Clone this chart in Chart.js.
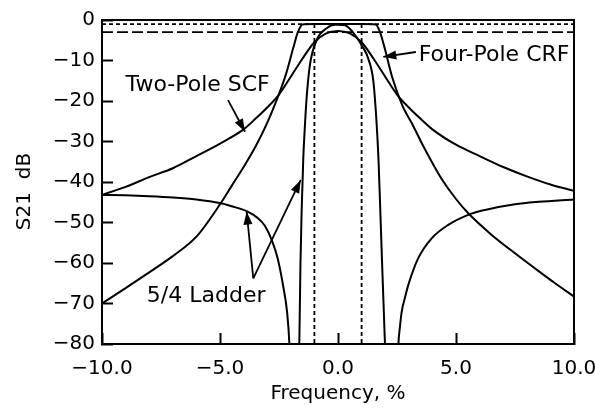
<!DOCTYPE html>
<html><head><meta charset="utf-8">
<script src="https://cdn.jsdelivr.net/npm/chart.js@4"></script>
<style>html,body{margin:0;padding:0;background:#fff}</style>
</head><body>
<canvas id="c" width="595" height="416"></canvas>
<script>
// ---- data ----
const xTickValues = [-10, -5, 0, 5, 10];
const yTickValues = [0, -10, -20, -30, -40, -50, -60, -70, -80];

const twoPoleFreq = [-10,-9,-8,-7,-6,-5,-4,-3.5,-3,-2.5,-2,-1.5,-1,-0.5,0,0.5,1,1.5,2,2.5,3,3.5,4,5,6,7,8,9,10];
const twoPoleS21  = [-43.2,-41.2,-38.8,-36.6,-33.6,-30.5,-27.0,-24.4,-21.6,-18.4,-14.0,-9.5,-5.5,-3.3,-2.7,-3.3,-5.5,-9.5,-14.0,-18.4,-21.6,-24.4,-27.0,-30.8,-33.6,-36.3,-38.6,-40.6,-42.2];

const fourPoleFreq = [-10,-9,-8,-7,-6,-5,-4.5,-4,-3.5,-3,-2.6,-2.2,-1.9,-1.7,-1.5,-1,0,1,1.6,1.78,1.98,2.3,2.72,3.2,3.6,4.0,4.4,5,5.5,6.5,7.5,8.5,9.2,10];
const fourPoleS21  = [-70,-66.2,-62.3,-58.3,-53.5,-45.5,-40.9,-36.3,-31.3,-25.4,-19.8,-13.3,-7.0,-3.0,-1.1,-1.0,-1.0,-1.0,-1.1,-3.0,-7.0,-14.2,-21.0,-26.3,-31.0,-35.3,-39.3,-44.2,-47.6,-53.0,-57.6,-62.0,-65.0,-68.3];

const ladderFreq = [-10,-9,-8,-7,-6,-5,-4.5,-3.87,-3.4,-3.1,-2.81,-2.55,-2.32,-2.16,-2.06,-1.95,-1.75,-1.64,-1.59,-1.54,-1.47,-1.40,-1.33,-1.19,-0.90,-0.48,-0.13,0,0.3,0.6,1.0,1.28,1.5,1.64,1.72,1.78,1.88,1.99,2.1,2.45,2.56,2.62,2.70,2.84,2.98,3.4,3.97,4.67,5.52,6.23,7.5,8.5,10];
const ladderS21  = [-43.2,-43.3,-43.5,-43.8,-44.3,-45.2,-46.0,-47.2,-48.9,-50.8,-54.3,-59.0,-65.8,-72,-80,-100,-100,-80,-60,-47,-34,-25.9,-19.3,-11.1,-4.9,-2.05,-1.2,-1.2,-1.3,-2.8,-6.2,-9.5,-15.2,-25.9,-35,-45,-62,-80,-100,-100,-80,-76,-72,-68.5,-65.4,-58.8,-53.9,-50.6,-48.1,-46.9,-45.5,-44.9,-44.3];

const dottedLevel = -1;
const dashedLevel = -3;
const dottedFreqs = [-1, 1];

const seriesNames = ['Two-Pole SCF', 'Four-Pole CRF', '5/4 Ladder'];

// ---- annotation placement (data units) ----
const notes = [
  {text: 'Two-Pole SCF', x: -9.0, y: -16.0, arrows: [[[-4.66, -19.8], [-3.94, -27.6]]]},
  {text: 'Four-Pole CRF', x: 3.42, y: -8.6, arrows: [[[3.3, -7.9], [1.92, -9.1]]]},
  {text: '5/4 Ladder', x: -8.1, y: -68.1, arrows: [[[-3.59, -63.8], [-3.87, -47.3]], [[-3.59, -63.8], [-1.58, -39.5]]]}
];

const FONT = 'DejaVu Sans';
const pts = (xs, ys) => xs.map((x, i) => ({x, y: ys[i]}));
const minusFmt = (v, d) => (v < 0 ? '\u2212' : '') + Math.abs(v).toFixed(d);

const curveStyle = {borderColor: '#000', borderWidth: 2, pointRadius: 0, cubicInterpolationMode: 'monotone', fill: false};

const frame = {
  id: 'frame',
  afterDraw(chart) {
    const a = chart.chartArea, ctx = chart.ctx;
    ctx.save();
    ctx.strokeStyle = '#000'; ctx.lineWidth = 2;
    ctx.strokeRect(a.left, a.top, a.right - a.left, a.bottom - a.top);
    ctx.restore();
  }
};

const annot = {
  id: 'annot',
  afterDatasetsDraw(chart) {
    const ctx = chart.ctx, sx = chart.scales.x, sy = chart.scales.y;
    ctx.save();
    ctx.fillStyle = '#000'; ctx.strokeStyle = '#000';
    ctx.font = '22px "' + FONT + '"';
    ctx.textAlign = 'left'; ctx.textBaseline = 'middle';
    notes.forEach(n => {
      ctx.fillText(n.text, sx.getPixelForValue(n.x), sy.getPixelForValue(n.y));
      n.arrows.forEach(([f, t]) => {
        const x1 = sx.getPixelForValue(f[0]), y1 = sy.getPixelForValue(f[1]);
        const x2 = sx.getPixelForValue(t[0]), y2 = sy.getPixelForValue(t[1]);
        ctx.lineWidth = 1.8;
        ctx.beginPath(); ctx.moveTo(x1, y1); ctx.lineTo(x2, y2); ctx.stroke();
        const ang = Math.atan2(y2 - y1, x2 - x1), L = 13, W = 4.5;
        const bx = x2 - L * Math.cos(ang), by = y2 - L * Math.sin(ang);
        ctx.beginPath();
        ctx.moveTo(x2, y2);
        ctx.lineTo(bx + W * Math.sin(ang), by - W * Math.cos(ang));
        ctx.lineTo(bx - W * Math.sin(ang), by + W * Math.cos(ang));
        ctx.closePath(); ctx.fill();
      });
    });
    ctx.restore();
  }
};

const zeroPad = s => { s.paddingLeft = 0; s.paddingRight = 0; s.paddingTop = 0; s.paddingBottom = 0; };

new Chart(document.getElementById('c'), {
  type: 'line',
  data: {
    datasets: [
      Object.assign({label: seriesNames[0], data: pts(twoPoleFreq, twoPoleS21)}, curveStyle),
      Object.assign({label: seriesNames[1], data: pts(fourPoleFreq, fourPoleS21)}, curveStyle),
      Object.assign({label: seriesNames[2], data: pts(ladderFreq, ladderS21)}, curveStyle),
      {label: 'ref -1', data: [{x: -10, y: dottedLevel}, {x: 10, y: dottedLevel}], borderColor: '#000', borderWidth: 1.8, borderDash: [4, 3], pointRadius: 0},
      {label: 'ref -3', data: [{x: -10, y: dashedLevel}, {x: 10, y: dashedLevel}], borderColor: '#000', borderWidth: 1.8, borderDash: [11, 4], pointRadius: 0},
      {label: 'ref f1', data: [{x: dottedFreqs[0], y: dottedLevel}, {x: dottedFreqs[0], y: -80}], borderColor: '#000', borderWidth: 1.8, borderDash: [4, 3], pointRadius: 0},
      {label: 'ref f2', data: [{x: dottedFreqs[1], y: dottedLevel}, {x: dottedFreqs[1], y: -80}], borderColor: '#000', borderWidth: 1.8, borderDash: [4, 3], pointRadius: 0}
    ]
  },
  options: {
    responsive: false,
    animation: false,
    devicePixelRatio: 1,
    layout: {padding: {top: 20, right: 21, bottom: 0, left: 0}},
    plugins: {legend: {display: false}, tooltip: {enabled: false}},
    scales: {
      x: {
        type: 'linear', min: -10, max: 10,
        afterBuildTicks: s => { s.ticks = xTickValues.map(v => ({value: v})); },
        afterFit: s => { s.height = 72; zeroPad(s); },
        ticks: {callback: v => minusFmt(v, 1), font: {family: FONT, size: 20}, color: '#000', padding: 24, maxRotation: 0, autoSkip: false},
        grid: {drawOnChartArea: false, tickLength: -11, tickWidth: 2, tickColor: '#000', color: '#000'},
        border: {color: '#000', width: 2},
        title: {display: true, text: 'Frequency, %', font: {family: FONT, size: 20}, color: '#000', padding: {top: 0, bottom: 10}}
      },
      y: {
        type: 'linear', min: -80, max: 0,
        afterBuildTicks: s => { s.ticks = yTickValues.map(v => ({value: v})); },
        afterFit: s => { s.width = 102; zeroPad(s); },
        ticks: {callback: v => minusFmt(v, 0), font: {family: FONT, size: 20}, color: '#000', padding: 18, autoSkip: false},
        grid: {drawOnChartArea: false, tickLength: -11, tickWidth: 2, tickColor: '#000', color: '#000'},
        border: {color: '#000', width: 2},
        title: {display: true, text: 'S21  dB   ', font: {family: FONT, size: 20}, color: '#000', padding: {top: 13, bottom: 0}}
      }
    }
  },
  plugins: [frame, annot]
});
</script>
</body></html>
